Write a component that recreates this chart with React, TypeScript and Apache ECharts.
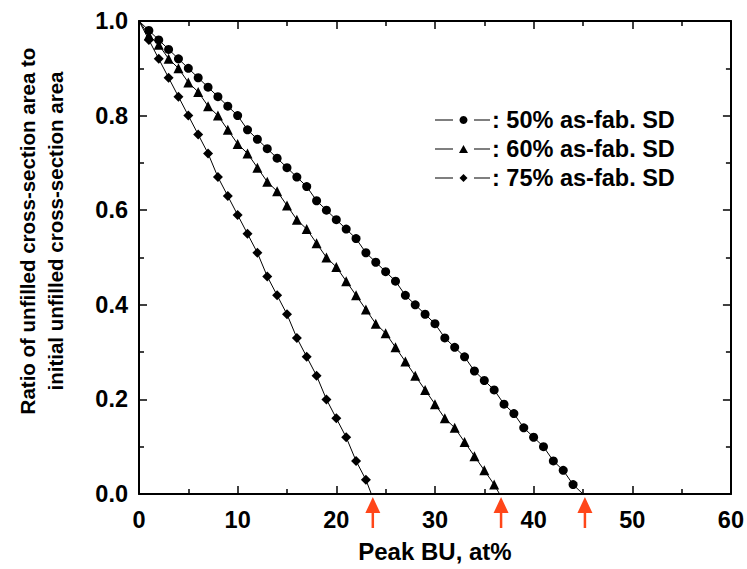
import React, { useEffect, useRef } from "react";
import * as echarts from "echarts";

// Ratio of unfilled cross-section area vs. peak BU (at%), one point per 1 at%
const ratio50 = [1.0, 0.98, 0.96, 0.94, 0.92, 0.9, 0.88, 0.86, 0.84, 0.82, 0.8, 0.77, 0.75, 0.73, 0.71, 0.69, 0.67, 0.65, 0.62, 0.6, 0.58, 0.56, 0.54, 0.51, 0.49, 0.47, 0.45, 0.42, 0.4, 0.38, 0.36, 0.33, 0.31, 0.29, 0.26, 0.24, 0.22, 0.19, 0.17, 0.14, 0.12, 0.1, 0.07, 0.05, 0.02, 0.0];
const ratio60 = [1.0, 0.97, 0.95, 0.92, 0.9, 0.87, 0.85, 0.82, 0.8, 0.77, 0.74, 0.72, 0.69, 0.66, 0.64, 0.61, 0.58, 0.56, 0.53, 0.5, 0.48, 0.45, 0.42, 0.39, 0.36, 0.34, 0.31, 0.28, 0.25, 0.22, 0.19, 0.16, 0.14, 0.11, 0.08, 0.05, 0.02];
const ratio75 = [1.0, 0.96, 0.92, 0.88, 0.84, 0.8, 0.76, 0.72, 0.67, 0.63, 0.59, 0.55, 0.51, 0.46, 0.42, 0.38, 0.33, 0.29, 0.25, 0.2, 0.16, 0.12, 0.07, 0.03];
const end50 = 45.0;
const end60 = 36.55;
const end75 = 23.55;
const seriesNames = ["50% as-fab. SD", "60% as-fab. SD", "75% as-fab. SD"];
const arrowBU = [23.7, 36.7, 45.2];
const xTicks = { min: 0, max: 60, interval: 10 };
const yTicks = { min: 0, max: 1, interval: 0.2 };

const FONT = "Liberation Sans, Arial, sans-serif";

// legend icons: short line, gap, marker, gap, short line (55 x 8 box)
const lineBits = "M0,3.5h18v1h-18z M39,3.5h16v1h-16z ";
const legendIcons = [
  "path://" + lineBits + "M28.5,0a4,4 0 1,0 0.001,0z",
  "path://" + lineBits + "M28.5,0L33,8L24,8z",
  "path://" + lineBits + "M28.5,0L32.5,4L28.5,8L24.5,4z",
];

function buildData(values: number[], endX: number) {
  const d: any[] = values.map((v, i) =>
    i === 0 ? { value: [i, v], symbol: "none" } : [i, v]
  );
  if (values[values.length - 1] === 0) {
    d[d.length - 1] = { value: [values.length - 1, 0], symbol: "none" };
  } else {
    d.push({ value: [endX, 0], symbol: "none" });
  }
  return d;
}

export default function App() {
  const ref = useRef<HTMLDivElement>(null);
  useEffect(() => {
    if (!ref.current) return;
    const chart = echarts.init(ref.current, null, { renderer: "svg" });
    const axisCommon = {
      axisLine: { show: true, onZero: false, lineStyle: { color: "#000", width: 2 } },
      axisTick: { show: true, inside: true, length: 8, lineStyle: { color: "#000", width: 1.5 } },
      minorTick: { show: true, splitNumber: 2, length: 5, lineStyle: { color: "#000", width: 1.5 } },
      splitLine: { show: false },
    };
    const labelStyle = { color: "#000", fontFamily: FONT, fontWeight: "bold" as const, fontSize: 23.5 };
    const mkSeries = (name: string, data: any[], symbol: string, size: number) => ({
      name,
      type: "line",
      data,
      symbol,
      symbolSize: size,
      showSymbol: true,
      lineStyle: { color: "#000", width: 1 },
      itemStyle: { color: "#000" },
      emphasis: { disabled: true },
      clip: false,
    });
    chart.setOption({
      animation: false,
      backgroundColor: "#fff",
      grid: { left: 139, top: 21, right: 13, bottom: 75 },
      legend: {
        orient: "vertical",
        left: 435,
        top: 108,
        padding: 0,
        itemWidth: 55,
        itemHeight: 8,
        itemGap: 5,
        formatter: (n: string) => ": " + n,
        textStyle: { ...labelStyle, fontSize: 23.5, padding: [0, 0, 0, -3] },
        data: seriesNames.map((n, i) => ({ name: n, icon: legendIcons[i] })),
      },
      xAxis: [
        {
          type: "value",
          position: "bottom",
          ...xTicks,
          ...axisCommon,
          axisLabel: { ...labelStyle, margin: 14, formatter: (v: number) => String(v) },
          name: "Peak BU, at%",
          nameLocation: "middle",
          nameGap: 45,
          nameTextStyle: { ...labelStyle, fontSize: 24 },
        },
        {
          type: "value",
          position: "top",
          ...xTicks,
          ...axisCommon,
          axisLabel: { show: false },
        },
      ],
      yAxis: [
        {
          type: "value",
          position: "left",
          ...yTicks,
          ...axisCommon,
          axisLabel: { ...labelStyle, margin: 11, formatter: (v: number) => v.toFixed(1) },
        },
        {
          type: "value",
          position: "right",
          ...yTicks,
          ...axisCommon,
          axisLabel: { show: false },
        },
      ],
      series: [
        mkSeries(seriesNames[0], buildData(ratio50, end50), "circle", 9),
        mkSeries(seriesNames[1], buildData(ratio60, end60), "triangle", 10),
        mkSeries(seriesNames[2], buildData(ratio75, end75), "diamond", 10),
      ],
    });

    const yPix = chart.convertToPixel({ yAxisIndex: 0 }, 0) as number;
    const arrowColor = "#ff4619";
    const arrows: any[] = [];
    arrowBU.forEach((bu) => {
      const px = chart.convertToPixel({ xAxisIndex: 0 }, bu) as number;
      arrows.push({
        type: "polygon",
        shape: { points: [[px, yPix + 3], [px + 7.5, yPix + 19], [px - 7.5, yPix + 19]] },
        style: { fill: arrowColor },
        silent: true,
      });
      arrows.push({
        type: "rect",
        shape: { x: px - 1.25, y: yPix + 18, width: 2.5, height: 16 },
        style: { fill: arrowColor },
        silent: true,
      });
    });
    arrows.push({
      type: "text",
      x: 41,
      y: 231,
      rotation: Math.PI / 2,
      style: {
        text: "Ratio of unfilled cross-section area to\ninitial unfilled cross-section area",
        align: "center",
        verticalAlign: "middle",
        fill: "#000",
        font: "bold 20.5px " + FONT,
        lineHeight: 28,
      },
      silent: true,
    });
    chart.setOption({ graphic: arrows });

    return () => chart.dispose();
  }, []);
  return (
    <div
      ref={ref}
      style={{ width: 747, height: 569, position: "absolute", left: 0, top: 0 }}
    />
  );
}
